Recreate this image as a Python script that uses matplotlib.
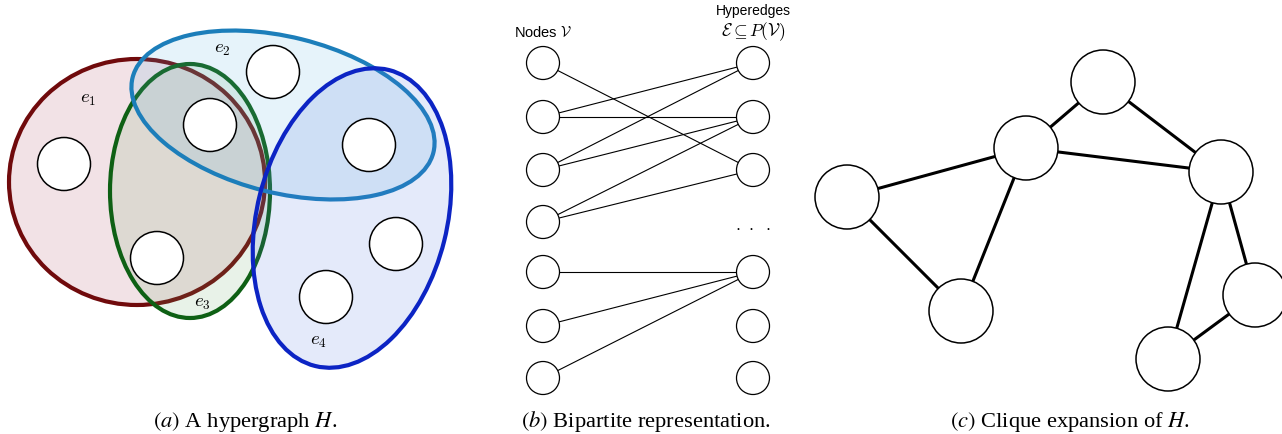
import numpy as np
import matplotlib.pyplot as plt
from matplotlib.patches import Ellipse, Circle

plt.rcParams["mathtext.fontset"] = "stix"
plt.rcParams["font.family"] = ["Liberation Serif", "DejaVu Serif"]

# (a) hypergraph: vertices and hyperedge regions, in pixel units
hyper_nodes = [(273, 72), (210, 125), (64, 164), (369, 145),
               (396, 244), (157, 258), (326, 297)]
hyper_node_r = 26.5

# hyperedges as ellipses: centre, width, height, angle
e1 = dict(center=(137, 182), w=256, h=246, angle=0)
e3 = dict(center=(190, 191), w=160, h=254, angle=0)
e2 = dict(center=(283, 115), w=310, h=156, angle=14)
e4 = dict(center=(352, 218), w=190, h=305, angle=14)

edge_labels = [("$e_1$", (88, 100)), ("$e_2$", (222, 50)),
               ("$e_3$", (202, 304)), ("$e_4$", (318, 342))]

# (b) bipartite representation
left_x, right_x = 543, 753
left_y = [63, 117, 170, 222, 272, 326, 378]
right_y = [63, 117, 170, 272, 326, 378]
bip_r = 16.5
bip_edges = [(0, 2), (1, 0), (1, 1), (2, 0), (2, 1),
             (3, 1), (3, 2), (4, 3), (5, 3), (6, 3)]

# (c) clique expansion
clique_nodes = {"A": (1103, 82), "B": (1026, 148), "C": (1221, 172),
                "D": (847, 197), "E": (961, 311), "F": (1255, 295),
                "G": (1168, 359)}
clique_r = 32
clique_edges = [("A", "B"), ("A", "C"), ("B", "C"), ("B", "D"), ("B", "E"),
                ("D", "E"), ("C", "G"), ("C", "F"), ("F", "G")]

captions = [(r"$\it{(a)}$ A hypergraph $H$.", 245),
            (r"$\it{(b)}$ Bipartite representation.", 646),
            (r"$\it{(c)}$ Clique expansion of $H$.", 1070)]


def rgb(r, g, b, a=1.0):
    return (r / 255, g / 255, b / 255, a)


def seg_between(p, q, rp, rq):
    p, q = np.array(p, float), np.array(q, float)
    d = q - p
    d /= np.hypot(*d)
    a = p + d * rp
    b = q - d * rq
    return [a[0], b[0]], [a[1], b[1]]


fig = plt.figure(figsize=(12.82, 4.34), dpi=100)
ax = fig.add_axes([0, 0, 1, 1])
ax.set_xlim(0, 1282)
ax.set_ylim(434, 0)
ax.axis("off")

lw_hyper = 3.0
styles = [
    (e1, rgb(168, 62, 88, 0.15), rgb(112, 10, 12)),
    (e3, rgb(102, 168, 102, 0.15), rgb(14, 96, 20)),
    (e2, rgb(88, 175, 228, 0.15), rgb(28, 126, 186)),
    (e4, rgb(75, 115, 222, 0.15), rgb(12, 36, 196)),
]
for e, fc, ec in styles:
    ax.add_patch(Ellipse(e["center"], e["w"], e["h"], angle=e["angle"],
                         facecolor=fc, edgecolor=ec, lw=lw_hyper))

for xy in hyper_nodes:
    ax.add_patch(Circle(xy, hyper_node_r, facecolor="white",
                        edgecolor="black", lw=1.1, zorder=5))

for txt, (x, y) in edge_labels:
    ax.text(x, y, txt, fontsize=13.5, ha="center", va="center",
            math_fontfamily="cm", zorder=6)

# bipartite graph
for li, ri in bip_edges:
    xs, ys = seg_between((left_x, left_y[li]), (right_x, right_y[ri]),
                         bip_r, bip_r)
    ax.plot(xs, ys, color="black", lw=0.8, zorder=3)
for y in left_y:
    ax.add_patch(Circle((left_x, y), bip_r, facecolor="white",
                        edgecolor="black", lw=0.9, zorder=4))
for y in right_y:
    ax.add_patch(Circle((right_x, y), bip_r, facecolor="white",
                        edgecolor="black", lw=0.9, zorder=4))
ax.text(right_x, 227, r"$\cdot\ \cdot\ \cdot$", fontsize=13, ha="center",
        va="center", math_fontfamily="cm")
ax.text(543, 37, r"Nodes $\mathcal{V}$", fontsize=10.5, ha="center",
        va="baseline", family=["Liberation Sans", "DejaVu Sans"],
        math_fontfamily="cm")
ax.text(right_x, 15, "Hyperedges", fontsize=10, ha="center", va="baseline",
        family=["Liberation Sans", "DejaVu Sans"])
ax.text(right_x, 36, r"$\mathcal{E} \subseteq P(\mathcal{V})$", fontsize=12.5,
        ha="center", va="baseline", math_fontfamily="cm")

# clique expansion
for a, b in clique_edges:
    xs, ys = seg_between(clique_nodes[a], clique_nodes[b], clique_r, clique_r)
    ax.plot(xs, ys, color="black", lw=2.2, solid_capstyle="butt", zorder=3)
for xy in clique_nodes.values():
    ax.add_patch(Circle(xy, clique_r, facecolor="white", edgecolor="black",
                        lw=1.1, zorder=4))

for txt, x in captions:
    ax.text(x, 427, txt, fontsize=16.2, ha="center", va="baseline")

fig.savefig("out.png", dpi=100)
